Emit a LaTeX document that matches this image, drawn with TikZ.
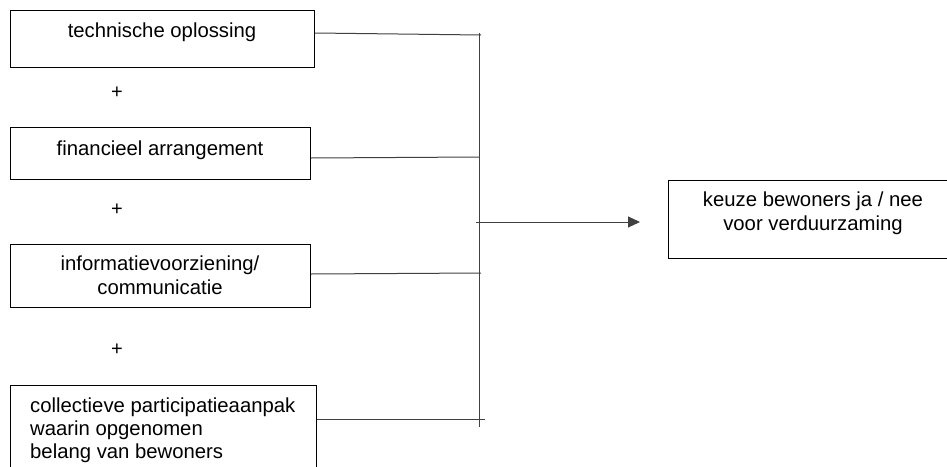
\documentclass[tikz,border=0pt]{standalone}
\usepackage{fontspec}
\setmainfont{Liberation Sans}
\usetikzlibrary{arrows.meta}
\begin{document}
\begin{tikzpicture}[x=1pt,y=-1pt,
  box/.style={draw=black, line width=1.1pt, anchor=north west, inner sep=0pt},
  txt/.style={font=\fontsize{20.3}{23.5}\selectfont, inner sep=0pt, anchor=base, align=center},
  ltxt/.style={font=\fontsize{20.3}{23}\selectfont, inner sep=0pt, anchor=base west, align=left},
  conn/.style={draw=black!75, line width=1pt},
  plus/.style={font=\fontsize{20}{23}\selectfont, inner sep=0pt}]
\useasboundingbox (0,0) rectangle (947,466);
% boxes
\node[box, minimum width=304pt, minimum height=57pt] (b1) at (10,10) {};
\node[box, minimum width=300pt, minimum height=52pt] (b2) at (10,127) {};
\node[box, minimum width=300pt, minimum height=63pt] (b3) at (10,244) {};
\node[box, minimum width=306pt, minimum height=95pt] (b4) at (10,385) {};
\node[box, minimum width=290pt, minimum height=78pt] (r) at (668,180) {};
% texts (multi-line nodes anchored at the baseline of their last line)
\node[txt] (t1) at (162,37) {technische oplossing};
\node[txt] (t2) at (160,155) {financieel arrangement};
\node[txt] (t3) at (160,294) {informatievoorziening/\\communicatie};
\node[ltxt] (t4) at (30,458) {collectieve participatieaanpak\\waarin opgenomen\\belang van bewoners};
\node[txt] (tr) at (813,230) {keuze bewoners ja / nee\\voor verduurzaming};
% plus signs
\node[plus] (p1) at (117,93) {+};
\node[plus] (p2) at (117,210) {+};
\node[plus] (p3) at (117,350) {+};
% collector
\coordinate (vt) at (479,33);
\coordinate (vb) at (479,427);
\draw[conn] (vt) -- (vb);
\coordinate (c1) at (481,35);
\coordinate (c2) at (479,157);
\coordinate (c3) at (481,273);
\coordinate (c4) at (485,419);
\draw[conn] (b1.east |- 0,33) -- (c1);
\draw[conn] (b2.east |- 0,158) -- (c2);
\draw[conn] (b3.east |- 0,274) -- (c3);
\draw[conn] (b4.north east |- 0,419) -- (c4);
\coordinate (as) at (476,222);
\coordinate (ae) at (640,222);
\draw[conn, -{Triangle[length=12pt,width=11pt]}] (as) -- (ae);
\end{tikzpicture}
\end{document}
